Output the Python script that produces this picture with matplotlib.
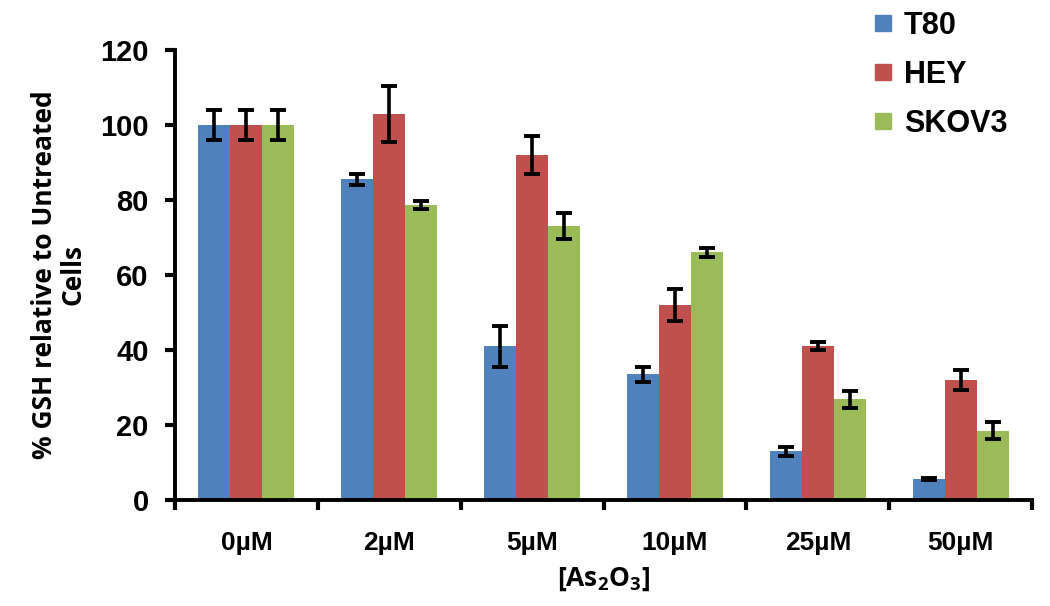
import numpy as np
import matplotlib
matplotlib.use("Agg")
import matplotlib.pyplot as plt
from matplotlib.lines import Line2D

# data
doses = ['0µM', '2µM', '5µM', '10µM', '25µM', '50µM']
lines = ['T80', 'HEY', 'SKOV3']
t80 = [100, 85.5, 41, 33.5, 13, 5.5]
hey = [100, 103, 92, 52, 41, 32]
skov3 = [100, 78.7, 73, 66, 26.8, 18.5]
t80_err = [4, 1.5, 5.5, 2, 1.2, 0.3]
hey_err = [4, 7.5, 5, 4.2, 1, 2.7]
skov3_err = [4, 1, 3.5, 1.3, 2.3, 2.2]
colors = ['#4F81BD', '#C0504D', '#9BBB59']

fig = plt.figure(figsize=(10.5, 6.06), dpi=100)
ax = fig.add_axes([0.1667, 0.175, 0.8163, 0.7425])

x = np.arange(len(doses))
w = 0.224
for i, (vals, errs) in enumerate([(t80, t80_err), (hey, hey_err), (skov3, skov3_err)]):
    ax.bar(x + (i - 1) * w, vals, w, color=colors[i], label=lines[i],
           yerr=errs, error_kw=dict(ecolor='black', elinewidth=2.6, capsize=5.5, capthick=2.8))

ax.set_xlim(-0.5, 5.5)
ax.set_ylim(0, 120)
ax.set_yticks(range(0, 121, 20))
ax.set_xticks(x)
ax.set_xticks(np.arange(-0.5, 6, 1), minor=True)
ax.set_xticklabels(doses, fontname='Liberation Sans', fontweight='bold', fontsize=19)
for lab in ax.get_yticklabels():
    lab.set_fontname('Liberation Sans')
    lab.set_fontweight('bold')
    lab.set_fontsize(21)
ax.tick_params(axis='x', which='major', length=0, pad=22)
ax.tick_params(axis='x', which='minor', length=7, width=3, direction='out')
ax.tick_params(axis='y', length=7, width=3, direction='out', pad=12)

for s in ['top', 'right']:
    ax.spines[s].set_visible(False)
for s in ['left', 'bottom']:
    ax.spines[s].set_linewidth(2.8)

ax.set_ylabel('% GSH relative to Untreated\nCells', fontname='Open Sans', fontweight='bold',
              fontsize=19, labelpad=10, linespacing=1.05)
ax.set_xlabel('[As$_\\mathregular{2}$O$_\\mathregular{3}$]', fontname='Open Sans', fontweight='bold',
              fontsize=19, labelpad=8)

handles = [Line2D([], [], marker='s', linestyle='none', markersize=11, color=c) for c in colors]
fig.legend(handles, lines, loc='upper left', bbox_to_anchor=(0.797, 1.027), frameon=False,
           prop=dict(family='Liberation Sans', weight='bold', size=22),
           labelspacing=0.62, handletextpad=0.1, handlelength=1.2)

fig.savefig('out.png', dpi=100)
